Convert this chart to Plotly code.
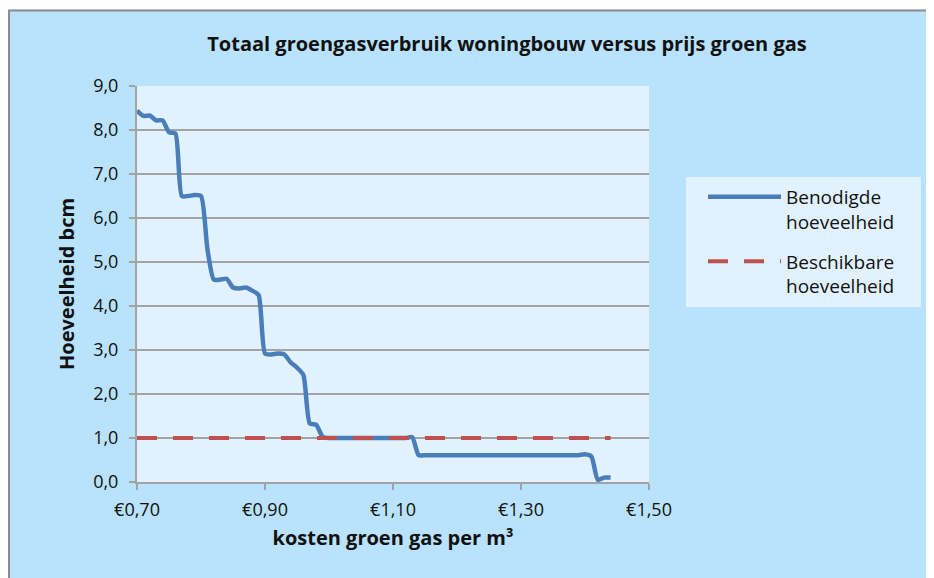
import plotly.graph_objects as go

prices = [0.70, 0.71, 0.72, 0.73, 0.74, 0.75, 0.76, 0.77, 0.78, 0.79,
          0.80, 0.81, 0.82, 0.83, 0.84, 0.85, 0.86, 0.87, 0.88, 0.89,
          0.90, 0.91, 0.92, 0.93, 0.94, 0.95, 0.96, 0.97, 0.98, 0.99,
          1.00, 1.01, 1.02, 1.03, 1.04, 1.05, 1.06, 1.07, 1.08, 1.09,
          1.10, 1.11, 1.12, 1.13, 1.14, 1.15, 1.16, 1.17, 1.18, 1.19,
          1.20, 1.21, 1.22, 1.23, 1.24, 1.25, 1.26, 1.27, 1.28, 1.29,
          1.30, 1.31, 1.32, 1.33, 1.34, 1.35, 1.36, 1.37, 1.38, 1.39,
          1.40, 1.41, 1.42, 1.43, 1.44]
benodigd = [8.44, 8.32, 8.33, 8.22, 8.22, 7.95, 7.92, 6.50, 6.50, 6.52,
            6.50, 5.30, 4.60, 4.60, 4.62, 4.42, 4.40, 4.42, 4.35, 4.25,
            2.92, 2.90, 2.92, 2.90, 2.72, 2.60, 2.43, 1.33, 1.30, 1.03,
            1.00, 1.00, 1.00, 1.00, 1.00, 1.00, 1.00, 1.00, 1.00, 1.00,
            1.00, 1.00, 1.00, 1.02, 0.61, 0.61, 0.61, 0.61, 0.61, 0.61,
            0.61, 0.61, 0.61, 0.61, 0.61, 0.61, 0.61, 0.61, 0.61, 0.61,
            0.61, 0.61, 0.61, 0.61, 0.61, 0.61, 0.61, 0.61, 0.61, 0.61,
            0.63, 0.58, 0.05, 0.10, 0.10]
beschikbaar = [1.0] * len(prices)

x_tickvals = [0.70, 0.90, 1.10, 1.30, 1.50]
x_ticktext = ["€0,70", "€0,90", "€1,10", "€1,30", "€1,50"]
y_tickvals = [0, 1, 2, 3, 4, 5, 6, 7, 8, 9]
y_ticktext = ["0,0", "1,0", "2,0", "3,0", "4,0", "5,0", "6,0", "7,0", "8,0", "9,0"]

FONT = "Open Sans"
OUTER = "#B9E3FC"
INNER = "#E1F2FE"
GRID = "#A3A3A3"

fig = go.Figure()
fig.add_trace(go.Scatter(
    x=prices, y=benodigd, mode="lines", name="Benodigde<br>hoeveelheid",
    legendgroup="a",
    line=dict(color="#4A7EBB", width=4.5, shape="spline", smoothing=0.6),
))
fig.add_trace(go.Scatter(
    x=prices, y=beschikbaar, mode="lines", name="Beschikbare<br>hoeveelheid",
    legendgroup="b",
    line=dict(color="#C0504D", width=4, dash="20px,16px"),
))

# the page body adds an 8px offset, so figure coords = reference coords - 8
W, H = 926, 570
L, R, T, B = 129, 641, 78, 474

def px2paper_x(px):
    return (px - L) / (R - L)

def px2paper_y(py):
    return (B - py) / (B - T)

fig.update_layout(
    width=W, height=H,
    margin=dict(l=L, r=W - R, t=T, b=H - B),
    paper_bgcolor=OUTER,
    plot_bgcolor=INNER,
    font=dict(family=FONT, size=18, color="#000000"),
    title=dict(text="<b>Totaal groengasverbruik woningbouw versus prijs groen gas</b>",
               x=px2paper_x(499), xref="paper", xanchor="center",
               y=1 - 36 / H, yanchor="middle",
               font=dict(family=FONT, size=20, color="#111111")),
    showlegend=True,
    legend=dict(x=px2paper_x(695), y=px2paper_y(170), xanchor="left", yanchor="top",
                bgcolor="rgba(0,0,0,0)", borderwidth=0, valign="top",
                font=dict(family=FONT, size=19, color="#111111"),
                tracegroupgap=12, itemwidth=73),
    separators=",.",
)

fig.update_xaxes(
    range=[0.70, 1.50], tickvals=x_tickvals, ticktext=x_ticktext,
    showgrid=False, zeroline=False,
    showline=True, linecolor=GRID, linewidth=2,
    ticks="outside", ticklen=6, tickcolor=GRID, tickwidth=1.5,
    ticklabelstandoff=4,
    tickfont=dict(family=FONT, size=18, color="#111111"),
    title=dict(text="<b>kosten groen gas per m³</b>",
               font=dict(family=FONT, size=20, color="#111111"), standoff=11),
)
fig.update_yaxes(
    range=[0, 9], tickvals=y_tickvals, ticktext=y_ticktext,
    showgrid=True, gridcolor=GRID, gridwidth=1.5, zeroline=False,
    showline=True, linecolor=GRID, linewidth=2,
    ticks="outside", ticklen=6, tickcolor=GRID, tickwidth=1.5,
    ticklabelstandoff=7,
    tickfont=dict(family=FONT, size=18, color="#111111"),
    title=dict(text="<b>Hoeveelheid bcm</b>",
               font=dict(family=FONT, size=20, color="#111111"), standoff=13),
)

# legend box
fig.add_shape(type="rect", xref="paper", yref="paper",
              x0=px2paper_x(678), x1=px2paper_x(913), y0=px2paper_y(299), y1=px2paper_y(169),
              fillcolor=INNER, line=dict(width=0), layer="below")
# white strip at the top and chart-area border
fig.add_shape(type="rect", xref="paper", yref="paper",
              x0=px2paper_x(-5), x1=px2paper_x(W + 5), y0=px2paper_y(1.5), y1=px2paper_y(-5),
              fillcolor="white", line=dict(width=0), layer="above")
fig.add_shape(type="rect", xref="paper", yref="paper",
              x0=px2paper_x(1), x1=px2paper_x(W + 5), y0=px2paper_y(H + 5), y1=px2paper_y(2.5),
              fillcolor="rgba(0,0,0,0)", line=dict(color="#8C8C8C", width=2), layer="above")

fig.write_html("out.html")
